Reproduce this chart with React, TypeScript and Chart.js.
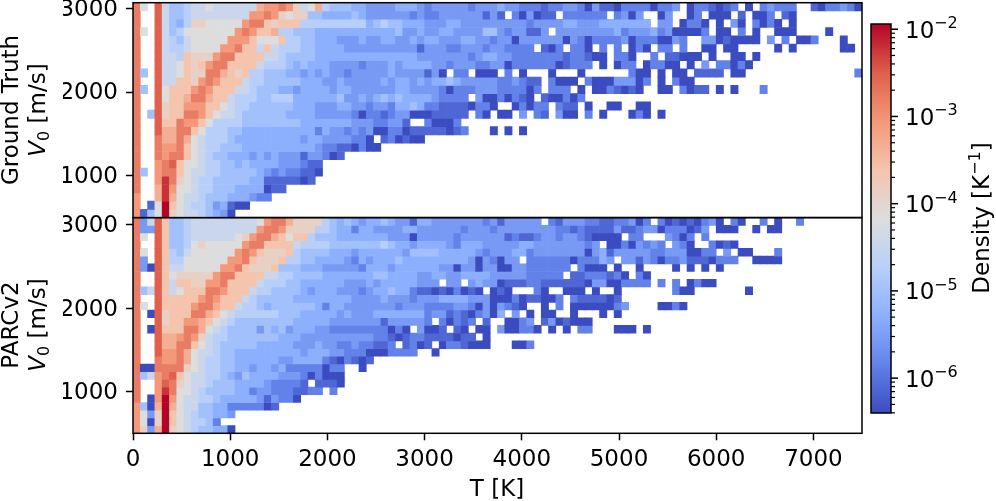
import React, { useEffect, useRef } from "react";
import { Chart, registerables } from "chart.js";

Chart.register(...registerables);

const FONT = "DejaVu Sans";
const FS = 23;
const xTicks = [0, 1000, 2000, 3000, 4000, 5000, 6000, 7000];
const yTicks = [1000, 2000, 3000];
const tMax = 7500;
const tBinCount = 100;
const vMin = 500;
const vMaxTop = 3067;
const vMaxBottom = 3088;

// Level code -> log10(density [1/K]); '.' is an empty cell.
const levelCodes = "0123456789abcdefg";
const levelLog10 = [-6.4, -6.12, -5.84, -5.56, -5.29, -5.01, -4.73, -4.45, -4.17, -3.89, -3.61, -3.33, -3.06, -2.78, -2.5, -2.22, -1.94];

const cbarMajor = [1e-2, 1e-3, 1e-4, 1e-5, 1e-6];
const cbarExponents = ["−2", "−3", "−4", "−5", "−6"];
const cbarMinorDigits = [2, 3, 4, 5, 6, 7, 8, 9];
const cbarDecades = [1e-7, 1e-6, 1e-5, 1e-4, 1e-3, 1e-2];

const coolwarm: number[][] = [
  [59, 76, 192], [98, 130, 234], [141, 176, 254], [184, 208, 249], [221, 221, 221],
  [245, 196, 173], [244, 152, 122], [222, 96, 77], [180, 4, 38],
];

const groundTruthRows = [
  "d8.e755677"+"8777777bcc"+"dc978b6555"+"4433334443"+"2333332333"+"4332221223"+"3203110222"+"20223.0221"+"012.0.2322"+"2..1022320",
  "d..e755677"+"777777ccdc"+"9899554444"+"5433333323"+"2233333313"+"1.203011.2"+"22222.2303"+"..03..02.0"+"00.1.002.1"+"0",
  "d..e754699"+"88888cdda9"+"aaa6666666"+"6645655444"+"3334433333"+"3333233334"+"4333444444"+"4.33.0220."+"0.30.2020."+"0",
  "d8.e756888"+"8888cdcaab"+"6655544444"+"4444445334"+"3344333355"+"3233113.33"+"3333334233"+"342300002."+"00.2.0..00"+"0....0....",
  "d..e765788"+"888ccca888"+"a665544433"+"3433443343"+"4433344332"+"3303333330"+"3202222302"+"220032..33"+"010000.3.2"+".002...0..",
  "d..e766788"+"88ccdaa7a7"+"6665544443"+"3333333331"+"3332233323"+"32222.102."+"220.2.2.02"+"0.22.2..00"+".00.....0."+"0......00.",
  "d..e776a99"+"9cddaaaa77"+"6555544444"+"4444444443"+"3333332344"+"3322222221"+"22100.220."+".2.11000.0"+"..00.0",
  "d..e778a9a"+"cddaaaa766"+"6545444333"+"3233343444"+"4332333223"+"3022222201"+"222.0.022."+"02200.0.3."+"22020",
  "d5.e778a99"+"ddba9a6655"+"5443434332"+"3333343333"+"130.22.000"+".2.0...0.."+".0......20"+"0.0.00.111"+"1.00......"+".........2",
  "d..e77aa9c"+"dcaaa76655"+"5554443343"+"3333434434"+"3445433333"+"223211.200"+"0.20003330"+"2.0.200",
  "d5.e8aaacd"+"caaa776555"+"4434444344"+"3333334433"+"3320222333"+"222202.222"+".0.0021010"+"..00.2011."+"0.0...2",
  "d..e8aabdd"+"baa7666556"+"6644444453"+"3434545444"+"432222.300"+"20210.1002"+"02",
  "d..e9aaccc"+"aa87665555"+"5544433344"+"3323324454"+"2211110220"+"..02022.21"+"1.0..00..0"+"0",
  "d.5e9aaddc"+"a877655555"+"5444433333"+"2022123300"+"011111.20."+"00.3.21.30"+"0.2.0...02"+"0.0",
  "d..eaadcca"+"8666655555"+"5554444444"+"33322331.."+"20002",
  "d..ebbdda8"+"6665544444"+"4444424332"+"3230022011"+"111012...0"+".0.0",
  "d..dbbdb87"+"6665444444"+"4443443333"+"220.120100",
  "d..dccda87"+"6655544444"+"4444432211"+"0200",
  "d..dcdda87"+"6554443434"+"333133201.",
  "d..cdea887"+"6655454444"+"333211",
  "d5.cdda877"+"6655555432"+"322110",
  "d..cfd9876"+"6555554411"+"11101",
  "d..bfc8876"+"6555444401"+"1",
  "c..bfb8776"+"555444322.",
  "c.18ga8766"+"534100",
  "c158g98776"+"5430",
];

const parcRows = [
  "d37ea55677"+"77777778cd"+"db99996545"+"4344543314"+"4333333323"+"133333.213"+"3322112230"+"2.20101023"+"0.20..2.0."+".2",
  "d33ea55677"+"7777777cdd"+"c999966544"+"2443333443"+"3333323332"+"3333333322"+"1211113112"+"330222013."+"000..0.00.",
  "d8.ea55677"+"777789cddb"+"a8aa655544"+"4444433303"+"3333233333"+"3121123323"+"3210000.22"+"...3202.2.",
  "d..ea55689"+"88888cddaa"+"aa76666555"+"5555654434"+"4443244433"+"3334433333"+"3323.00203"+"232.320..2"+"010",
  "d8.ea65788"+"8888cdca99"+"9a65555444"+"3444444355"+"5544444323"+"3344233333"+"3303413333"+"3223330022"+".3.00...2.",
  "d3.ea66888"+"888ccda999"+"a665544443"+"2434445444"+"4444443032"+"033.222222"+"022243.331"+"3202231110"+"222..0000.",
  "d30ea77888"+"88ccda999a"+"5554443333"+"3244434444"+"4433033033"+"0033222222"+".2000.0..0"+"....0.0.0."+"0",
  "d..ea89999"+"9cddaaaa77"+"6655554444"+"4445544443"+"3443344443"+"333322222."+"11222120.2"+"0",
  "d..ea7aa99"+"ccdaaaa766"+"6554444443"+"3343444443"+"33.33.3433"+"0111221111"+"1103300222"+"2.2.2.0200",
  "d57ea78aaa"+"ddcaaa7665"+"5554344433"+"3234454421"+"10102010.0"+"10...20..0"+"00.0..0..."+"....200..."+"....0",
  "d..eaaaaac"+"dcaaa76555"+"5544444444"+"3333433323"+"3344443330"+"002011002."+"2111101",
  "d8.eaaaacd"+"dbaa766545"+"5555542443"+"3333332333"+"2222332030"+"3210..0.2."+"00000023.."+"..0020",
  "d.0e9aaadd"+"ba87666666"+"5554444434"+"3334444444"+"2331210230"+"4.3.0.00.."+"0...0.0",
  "d..e9aaccb"+"a876555555"+"5544444333"+"3333133333"+"2.20212.1."+".0023.1301"+"000",
  "d.0eaaaddb"+"8765555354"+"5344433222"+"22222020.3"+"001.10.00."+"300220.0.0"+".22...000."+"0",
  "d..ebbcdc9"+"7665555555"+"4443333333"+"3332210122"+"1111011.0.",
  "d..ebbdda8"+"7655555444"+"4433343322"+"322112.120"+"1.0221000."+"..002",
  "d..eccdb87"+"7655444444"+"4443444332"+"220002222."+".0",
  "d..dccdb87"+"6655444444"+"3344442102"+"101",
  "d00dddd987"+"6655443443"+"422222022."+".0",
  "d57cdea877"+"6654354444"+"333202000.",
  "d..ced9877"+"6555444432"+"2221.1110.",
  "d..cfd8876"+"5555442332"+"221122.2",
  "d.0cgc8776"+"6544444313"+"220",
  "c50bgb8775"+"5442222201",
  "c839ga8765"+"5443",
  "c809ga8766"+"52",
  "c93bg98765"+"5440",
];

const logMin = levelLog10[0];
const logMax = levelLog10[levelLog10.length - 1];

function colorAt(t: number) {
  const p = Math.max(0, Math.min(1, t)) * (coolwarm.length - 1);
  const i = Math.min(coolwarm.length - 2, Math.floor(p));
  const f = p - i;
  const c = coolwarm[i].map((v, k) => Math.round(v + (coolwarm[i + 1][k] - v) * f));
  return `rgb(${c[0]},${c[1]},${c[2]})`;
}

function rowDatasets(rows: string[], vMax: number) {
  const binW = tMax / tBinCount;
  const binH = (vMax - vMin) / rows.length;
  return rows.map((row, r) => {
    const data: any[] = [];
    const colors: string[] = [];
    const hi = vMax - r * binH;
    for (let i = 0; i < row.length; i++) {
      const idx = levelCodes.indexOf(row[i]);
      if (idx < 0) continue;
      data.push({ x: (i + 0.5) * binW, y: [hi - binH, hi] });
      colors.push(colorAt((levelLog10[idx] - logMin) / (logMax - logMin)));
    }
    return { data, backgroundColor: colors, borderWidth: 0, barPercentage: 1, categoryPercentage: 1, grouped: false };
  });
}

type Part = { text: string; font: string; dy?: number };
function drawParts(ctx: any, parts: Part[], x: number, y: number, rotate: boolean) {
  ctx.save();
  ctx.translate(x, y);
  if (rotate) ctx.rotate(-Math.PI / 2);
  ctx.fillStyle = "#000";
  ctx.textBaseline = "alphabetic";
  ctx.textAlign = "left";
  let w = 0;
  for (const p of parts) { ctx.font = p.font; w += ctx.measureText(p.text).width; }
  let cx = -w / 2;
  for (const p of parts) {
    ctx.font = p.font;
    ctx.fillText(p.text, cx, p.dy || 0);
    cx += ctx.measureText(p.text).width;
  }
  ctx.restore();
}

const normal = `${FS}px "${FONT}"`;
const small = `16px "${FONT}"`;
const italic = `oblique ${FS}px "${FONT}"`;

const framePlugin = {
  id: "frame",
  afterDatasetsDraw(chart: any) {
    const { ctx, chartArea: a } = chart;
    ctx.save();
    ctx.strokeStyle = "#000";
    ctx.lineWidth = 1.5;
    ctx.strokeRect(a.left, a.top, a.right - a.left, a.bottom - a.top);
    ctx.restore();
  },
};

function titlePlugin(name: string, cy: number) {
  return {
    id: "panelTitle",
    afterDraw(chart: any) {
      const { ctx } = chart;
      drawParts(ctx, [{ text: name, font: normal }], 18, cy, true);
      drawParts(ctx, [
        { text: "V", font: italic },
        { text: "0", font: small, dy: 3.5 },
        { text: " [m/s]", font: normal },
      ], 45, cy, true);
    },
  };
}

function panelConfig(rows: string[], vMax: number, top: number, bottom: number, showX: boolean, name: string, titleY: number): any {
  const fixPadding = (s: any) => {
    s.paddingTop = 0; s.paddingBottom = 0; s.paddingLeft = 0; s.paddingRight = 0;
  };
  return {
    type: "bar",
    data: { datasets: rowDatasets(rows, vMax) },
    plugins: [framePlugin, titlePlugin(name, titleY)],
    options: {
      animation: false,
      responsive: false,
      devicePixelRatio: 1,
      layout: { padding: { left: 63, right: 996 - 862, top, bottom: 501 - bottom - (showX ? 40 : 0) } },
      plugins: { legend: { display: false }, tooltip: { enabled: false } },
      scales: {
        x: {
          type: "linear", min: 0, max: tMax, display: showX, offset: false,
          afterBuildTicks: (s: any) => { s.ticks = xTicks.map((value) => ({ value })); },
          afterFit: (s: any) => { s.height = showX ? 40 : 0; fixPadding(s); },
          grid: { offset: false, drawOnChartArea: false, drawTicks: true, tickLength: 7, tickWidth: 1.5, color: "#000" },
          border: { display: false },
          ticks: { autoSkip: false, maxRotation: 0, padding: 6, color: "#000", font: { family: FONT, size: FS }, callback: (v: any) => String(v) },
        },
        y: {
          type: "linear", min: vMin, max: vMax,
          afterBuildTicks: (s: any) => { s.ticks = yTicks.map((value) => ({ value })); },
          afterFit: (s: any) => { s.width = 70; fixPadding(s); },
          grid: { drawOnChartArea: false, drawTicks: true, tickLength: 7, tickWidth: 1.5, color: "#000" },
          border: { display: false },
          ticks: { autoSkip: false, padding: 8, labelOffset: 1.5, color: "#000", font: { family: FONT, size: FS }, callback: (v: any) => String(v) },
        },
      },
    },
  };
}

const xTitlePlugin = {
  id: "xTitle",
  afterDraw(chart: any) {
    drawParts(chart.ctx, [{ text: "T [K]", font: normal }], 497, 496, false);
  },
};

function colorbarConfig(): any {
  return {
    type: "bar",
    data: {
      labels: ["density"],
      datasets: [{
        data: [[Math.pow(10, logMin), Math.pow(10, logMax)]],
        borderWidth: 0,
        barPercentage: 1,
        categoryPercentage: 1,
        backgroundColor: (c: any) => {
          const a = c.chart.chartArea;
          if (!a) return "#000";
          const g = c.chart.ctx.createLinearGradient(0, a.bottom, 0, a.top);
          coolwarm.forEach((rgb, i) => g.addColorStop(i / (coolwarm.length - 1), `rgb(${rgb.join(",")})`));
          return g;
        },
      }],
    },
    plugins: [framePlugin, {
      id: "cbarAxis",
      afterDraw(chart: any) {
        const { ctx, chartArea: a, scales } = chart;
        const y = scales.y;
        ctx.save();
        ctx.strokeStyle = "#000";
        ctx.lineWidth = 1.2;
        const minLog = y.min, maxLog = y.max;
        cbarDecades.forEach((d) => cbarMinorDigits.forEach((m) => {
          const v = d * m;
          if (v < minLog || v > maxLog) return;
          const py = y.getPixelForValue(v);
          ctx.beginPath(); ctx.moveTo(a.right, py); ctx.lineTo(a.right + 4, py); ctx.stroke();
        }));
        ctx.lineWidth = 1.5;
        cbarMajor.forEach((v, i) => {
          const py = y.getPixelForValue(v);
          ctx.beginPath(); ctx.moveTo(a.right, py); ctx.lineTo(a.right + 7, py); ctx.stroke();
          ctx.fillStyle = "#000";
          ctx.textAlign = "left";
          ctx.textBaseline = "alphabetic";
          ctx.font = normal;
          ctx.fillText("10", 905, py + 8.5);
          ctx.font = small;
          ctx.fillText(cbarExponents[i], 934, py - 1);
        });
        ctx.restore();
        drawParts(ctx, [
          { text: "Density [K", font: normal },
          { text: "−1", font: small, dy: -9 },
          { text: "]", font: normal },
        ], 989, 218, true);
      },
    }],
    options: {
      animation: false,
      responsive: false,
      devicePixelRatio: 1,
      layout: { padding: { left: 871, right: 996 - 891, top: 24, bottom: 501 - 413 } },
      plugins: { legend: { display: false }, tooltip: { enabled: false } },
      scales: {
        x: { display: false },
        y: { type: "logarithmic", display: false, min: Math.pow(10, logMin), max: Math.pow(10, logMax) },
      },
    },
  };
}

const canvasStyle: React.CSSProperties = { position: "absolute", left: 0, top: 0, width: 996, height: 501 };

export default function App() {
  const topRef = useRef<HTMLCanvasElement>(null);
  const bottomRef = useRef<HTMLCanvasElement>(null);
  const cbarRef = useRef<HTMLCanvasElement>(null);
  useEffect(() => {
    const bottomCfg = panelConfig(parcRows, vMaxBottom, 217.6, 433.3, true, "PARCv2", 325);
    bottomCfg.plugins.push(xTitlePlugin);
    const charts = [
      new Chart(topRef.current!, panelConfig(groundTruthRows, vMaxTop, 2.7, 217.6, false, "Ground Truth", 110)),
      new Chart(bottomRef.current!, bottomCfg),
      new Chart(cbarRef.current!, colorbarConfig()),
    ];
    return () => charts.forEach((c) => c.destroy());
  }, []);
  return (
    <div style={{ position: "fixed", left: 0, top: 0, width: 996, height: 501, background: "#fff", overflow: "hidden" }}>
      <canvas ref={bottomRef} width={996} height={501} style={canvasStyle} />
      <canvas ref={topRef} width={996} height={501} style={canvasStyle} />
      <canvas ref={cbarRef} width={996} height={501} style={canvasStyle} />
    </div>
  );
}
